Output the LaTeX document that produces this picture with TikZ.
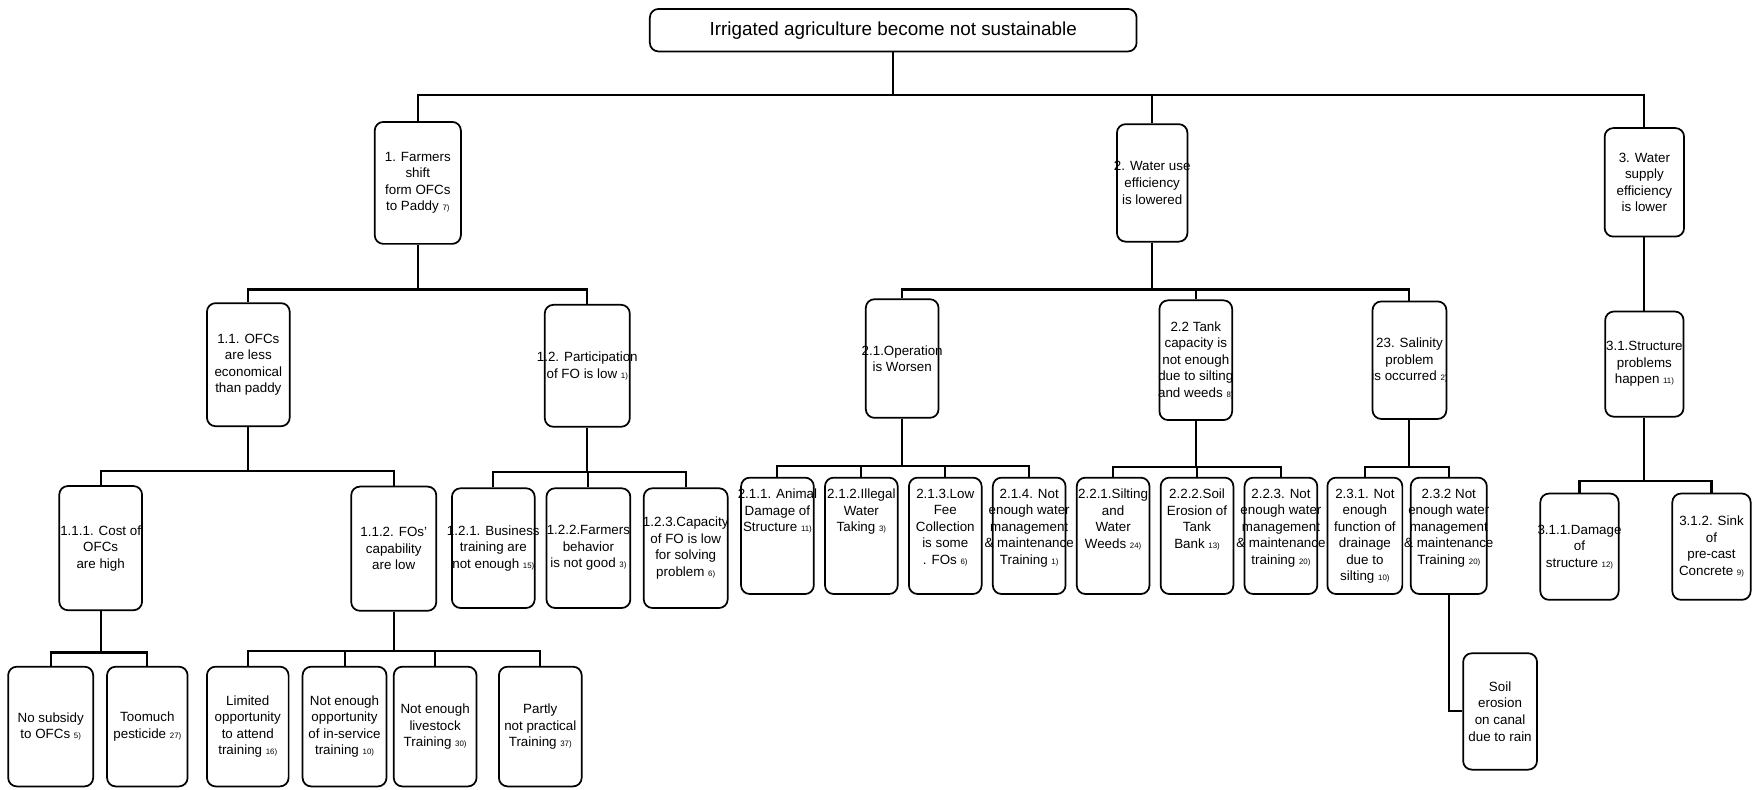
\documentclass[tikz,border=0pt]{standalone}
\usepackage{fontspec}
\setmainfont{Liberation Sans}
\usetikzlibrary{positioning}

\newcommand{\ile}[1]{{\fontsize{5}{6}\selectfont #1}}
\newcommand{\spill}[1]{\makebox[0pt]{#1}}

\begin{document}
\begin{tikzpicture}[x=0.025cm, y=-0.025cm, node distance=1.875cm,
        box/.style={draw, rounded corners=5.5pt, line width=1.1pt, align=center, inner sep=0pt,
            font=\fontsize{8.5}{10.5}\selectfont, minimum width=1.85cm, minimum height=2.675cm},
        mid/.style={draw, rounded corners=5.5pt, line width=1.1pt, inner sep=0pt,
            font=\fontsize{8.5}{10.5}\selectfont, minimum width=1.625cm, minimum height=2.6cm,
            execute at begin node={\begin{minipage}[c][2.1cm][t]{1.6cm}\centering},
            execute at end node={\end{minipage}}},
        edge/.style={line width=1.3pt}]
        \useasboundingbox (0,0) rectangle (1568,706);

        % Korzeń
        \node[box, minimum width=10.875cm, minimum height=0.95cm, font=\fontsize{12}{14}\selectfont] (root) at (798.5,27) {Irrigated agriculture become not sustainable};

        % Poziom 1
        \node[box, minimum width=1.925cm, minimum height=2.725cm] (n1) at (373.5,163.5) {1. Farmers\\shift\\form OFCs\\to Paddy \ile{7)}};
        \node[box, minimum width=1.575cm, minimum height=2.625cm] (n2) at (1030,163.5) {\spill{2. Water use}\\efficiency\\is lowered};
        \node[box, minimum width=1.775cm, minimum height=2.425cm] (n3) at (1470,163) {3. Water\\supply\\efficiency\\is lower};

        % Poziom 2
        \node[box, minimum height=2.75cm] (n11) at (222,326) {1.1. OFCs\\are less\\economical\\than paddy};
        \node[box, minimum width=1.9cm, minimum height=2.725cm] (n12) at (525,327) {\spill{1.2. Participation}\\of FO is low \ile{1)}};
        \node[box, minimum width=1.625cm, minimum height=2.65cm] (n21) at (806.5,320.5) {\spill{2.1.Operation}\\is Worsen};
        \node[box, minimum width=1.625cm] (n22) at (1069,322) {2.2 Tank\\capacity is\\not enough\\\spill{due to silting}\\\spill{and weeds \ile{8)}}};
        \node[box, minimum width=1.65cm, minimum height=2.625cm] (n23) at (1260,322) {23. Salinity\\problem\\\spill{is occurred \ile{2)}}};
        \node[box, minimum width=1.75cm, minimum height=2.35cm] (n31) at (1470,325.5) {\spill{3.1.Structure}\\problems\\happen \ile{11)}};

        % Poziom 3
        \node[box, minimum height=2.775cm] (n111) at (90,490) {\spill{1.1.1. Cost of}\\OFCs\\are high};
        \node[box, minimum width=1.9cm, minimum height=2.775cm] (n112) at (352,490.5) {1.1.2. FOs'\\capability\\are low};
        \node[box] (n121) at (441,490) {\spill{1.2.1. Business}\\training are\\\spill{not enough \ile{15)}}};
        \node[box, minimum width=1.875cm] (n122) at (526,490) {\spill{1.2.2.Farmers}\\behavior\\is not good \ile{3)}};
        \node[box, minimum width=1.875cm] (n123) at (613,490) {\spill{1.2.3.Capacity}\\of FO is low\\for solving\\problem \ile{6)}};

        \node[mid] (n211) at (695,479) {\spill{2.1.1. Animal}\\Damage of\\Structure \ile{11)}};
        \node[mid] (n212) [right of=n211] {\spill{2.1.2.Illegal}\\Water\\Taking \ile{3)}};
        \node[mid] (n213) [right of=n212] {2.1.3.Low\\Fee\\Collection\\is some\\. FOs \ile{6)}};
        \node[mid] (n214) [right of=n213] {2.1.4. Not\\\spill{enough water}\\\spill{management}\\\spill{\& maintenance}\\Training \ile{1)}};
        \node[mid] (n221) [right of=n214] {\spill{2.2.1.Silting}\\and\\Water\\Weeds \ile{24)}};
        \node[mid] (n222) [right of=n221] {2.2.2.Soil\\Erosion of\\Tank\\Bank \ile{13)}};
        \node[mid] (n223) [right of=n222] {2.2.3. Not\\\spill{enough water}\\\spill{management}\\\spill{\& maintenance}\\training \ile{20)}};
        \node[mid, minimum width=1.675cm] (n231) [right of=n223] {2.3.1. Not\\enough\\function of\\drainage\\due to\\silting \ile{10)}};
        \node[mid, minimum width=1.7cm] (n232) [right of=n231] {2.3.2 Not\\\spill{enough water}\\\spill{management}\\\spill{\& maintenance}\\Training \ile{20)}};

        \node[box, minimum width=1.75cm, minimum height=2.375cm] (n311) at (1412,488.7) {\spill{3.1.1.Damage}\\of\\structure \ile{12)}};
        \node[box, minimum width=1.75cm, minimum height=2.375cm] (n312) at (1530,488.7) {3.1.2. Sink\\of\\pre-cast\\Concrete \ile{9)}};

        % Poziom 4
        \node[box, minimum width=1.9cm] (n1111) at (45.3,649.5) {No subsidy\\to OFCs \ile{5)}};
        \node[box, minimum width=1.8cm] (n1112) at (131.7,649.5) {Toomuch\\pesticide \ile{27)}};
        \node[box, minimum width=1.825cm] (n1121) at (221.5,649.5) {Limited\\opportunity\\to attend\\training \ile{16)}};
        \node[box, minimum width=1.875cm] (n1122) at (308,649.5) {Not enough\\opportunity\\of in-service\\training \ile{10)}};
        \node[box] (n1123) at (389,649.5) {Not enough\\livestock\\Training \ile{30)}};
        \node[box] (n1124) at (483,649.5) {Partly\\not practical\\Training \ile{37)}};
        \node[box, minimum width=1.65cm, minimum height=2.6cm] (n2321) at (1341,636) {Soil\\erosion\\on canal\\due to rain};

        % Krawędzie
        \foreach \c in {n1,n2,n3} \draw[edge] (root.south) -- ++(0,38) -| (\c.north);
        \foreach \c in {n11,n12} \draw[edge] (n1.south) -- ++(0,40) -| (\c.north);
        \foreach \c in {n21,n22,n23} \draw[edge] (n2.south) -- ++(0,42) -| (\c.north);
        \draw[edge] (n3.south) -- (n31.north);
        \foreach \c in {n111,n112} \draw[edge] (n11.south) -- ++(0,39) -| (\c.north);
        \foreach \c in {n121,n122,n123} \draw[edge] (n12.south) -- ++(0,40) -| (\c.north);
        \foreach \c in {n211,n212,n213,n214} \draw[edge] (n21.south) -- ++(0,42) -| (\c.north);
        \foreach \c in {n221,n222,n223} \draw[edge] (n22.south) -- ++(0,41.5) -| (\c.north);
        \foreach \c in {n231,n232} \draw[edge] (n23.south) -- ++(0,42) -| (\c.north);
        \foreach \c in {n311,n312} \draw[edge] (n31.south) -- ++(0,56.5) -| (\c.north);
        \foreach \c in {n1111,n1112} \draw[edge] (n111.south) -- ++(0,37) -| (\c.north);
        \foreach \c in {n1121,n1122,n1123,n1124} \draw[edge] (n112.south) -- ++(0,35) -| (\c.north);
        \draw[edge] (n232.south) |- (n2321.west);
\end{tikzpicture}
\end{document}
